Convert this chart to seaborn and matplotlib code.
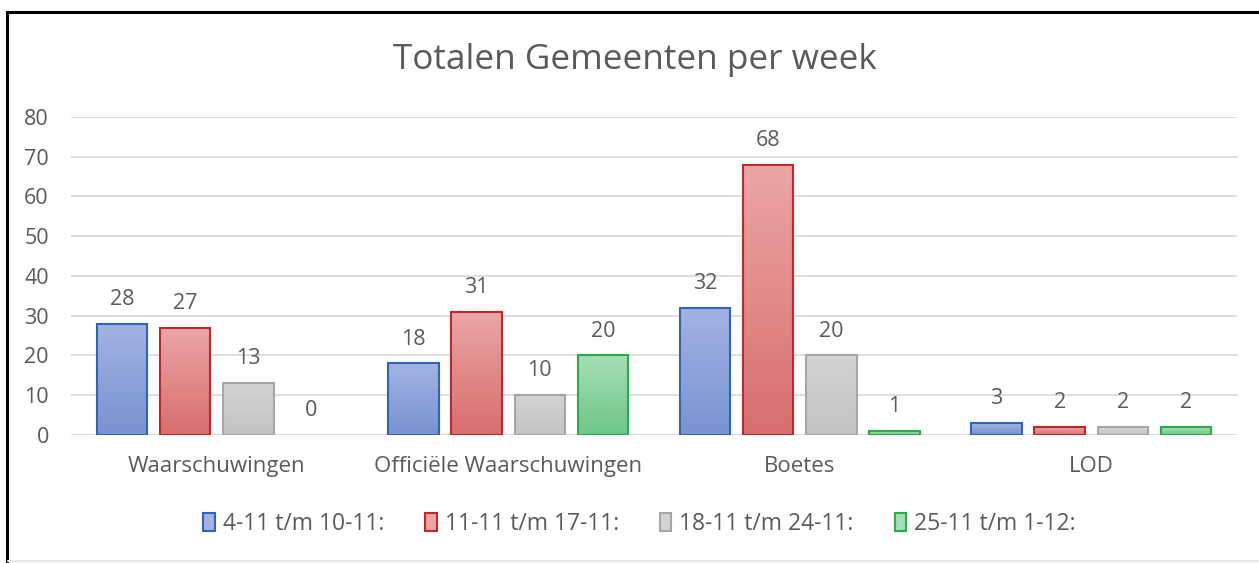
import numpy as np
import pandas as pd
import matplotlib
matplotlib.use('Agg')
import matplotlib.pyplot as plt
import seaborn as sns
from matplotlib.colors import LinearSegmentedColormap
from matplotlib.patches import Patch, Rectangle

# data
categories = ['Waarschuwingen', 'Officiële Waarschuwingen', 'Boetes', 'LOD']
weeks = ['4-11 t/m 10-11:', '11-11 t/m 17-11:', '18-11 t/m 24-11:', '25-11 t/m 1-12:']
week1 = [28, 18, 32, 3]
week2 = [27, 31, 68, 2]
week3 = [13, 10, 20, 2]
week4 = [0, 20, 1, 2]

# colours: (edge, top of gradient, bottom of gradient)
edges = ['#2F64B9', '#C4262C', '#A6A6A6', '#2DAA4E']
tops = ['#A3B3E2', '#EBA5A5', '#D3D3D3', '#A6DEB5']
bottoms = ['#7892D2', '#D86E6E', '#C3C3C3', '#6FC689']

df = pd.DataFrame({
    'categorie': categories * 4,
    'week': np.repeat(weeks, 4),
    'aantal': week1 + week2 + week3 + week4,
})

sns.set_style('white')
plt.rcParams['font.family'] = ['Open Sans', 'DejaVu Sans']
txt = '#5A5A5A'

fig = plt.figure(figsize=(12.59, 5.63), dpi=100)
ax = fig.add_axes([0.0564, 0.2274, 0.9261, 0.5648])

sns.barplot(data=df, x='categorie', y='aantal', hue='week', order=categories,
            hue_order=weeks, palette=tops, width=0.866, gap=0.2, ax=ax,
            legend=False, zorder=3)

# gradient fill per bar, clipped to the bar shape
for i, cont in enumerate(ax.containers):
    cmap = LinearSegmentedColormap.from_list('g%d' % i, [bottoms[i], tops[i]])
    for bar in cont:
        bar.set_edgecolor(edges[i])
        bar.set_linewidth(1.5)
        h = bar.get_height()
        if h <= 0:
            bar.set_visible(False)
            continue
        x0 = bar.get_x()
        w = bar.get_width()
        bar.set_facecolor('none')
        im = ax.imshow(np.linspace(0, 1, 64).reshape(-1, 1), cmap=cmap,
                       extent=[x0, x0 + w, 0, h], origin='lower',
                       aspect='auto', zorder=2.9)
        im.set_clip_path(bar)
    ax.bar_label(cont, labels=[f'{v:g}' for v in cont.datavalues],
                 padding=10, color=txt, fontsize=15.5)

ax.set_xlim(-0.5, 3.5)
ax.set_ylim(0, 80)
ax.set_yticks(range(0, 81, 10))
ax.yaxis.grid(True, color='#D9D9D9', linewidth=1.2, zorder=0)
ax.set_axisbelow(True)
sns.despine(ax=ax, left=True, bottom=True, top=True, right=True)
ax.tick_params(axis='both', length=0, colors=txt, labelsize=15.5)
ax.tick_params(axis='x', labelsize=16, pad=15)
ax.tick_params(axis='y', pad=16)
ax.set_xlabel('')
ax.set_ylabel('')

fig.text(0.504, 0.893, 'Totalen Gemeenten per week', ha='center', va='center',
         fontsize=25.3, color=txt)

handles = [Patch(facecolor=tops[i], edgecolor=edges[i], linewidth=1.5)
           for i in range(4)]
fig.legend(handles, weeks, loc='center', bbox_to_anchor=(0.508, 0.069),
           ncol=4, frameon=False, fontsize=16.5, labelcolor=txt,
           handlelength=0.5, handleheight=0.85, handletextpad=0.35,
           columnspacing=1.8)

# screenshot frame
fig.add_artist(Rectangle((7 / 1259, -0.05), 1.2, 1 - 12 / 563 + 0.05,
                         transform=fig.transFigure, fill=False,
                         edgecolor='black', linewidth=2.2))
fig.add_artist(plt.Line2D([8 / 1259, 1], [2 / 563, 2 / 563],
                          transform=fig.transFigure, color='#E6E6E6',
                          linewidth=1.5))

fig.savefig('out.png', dpi=100)
